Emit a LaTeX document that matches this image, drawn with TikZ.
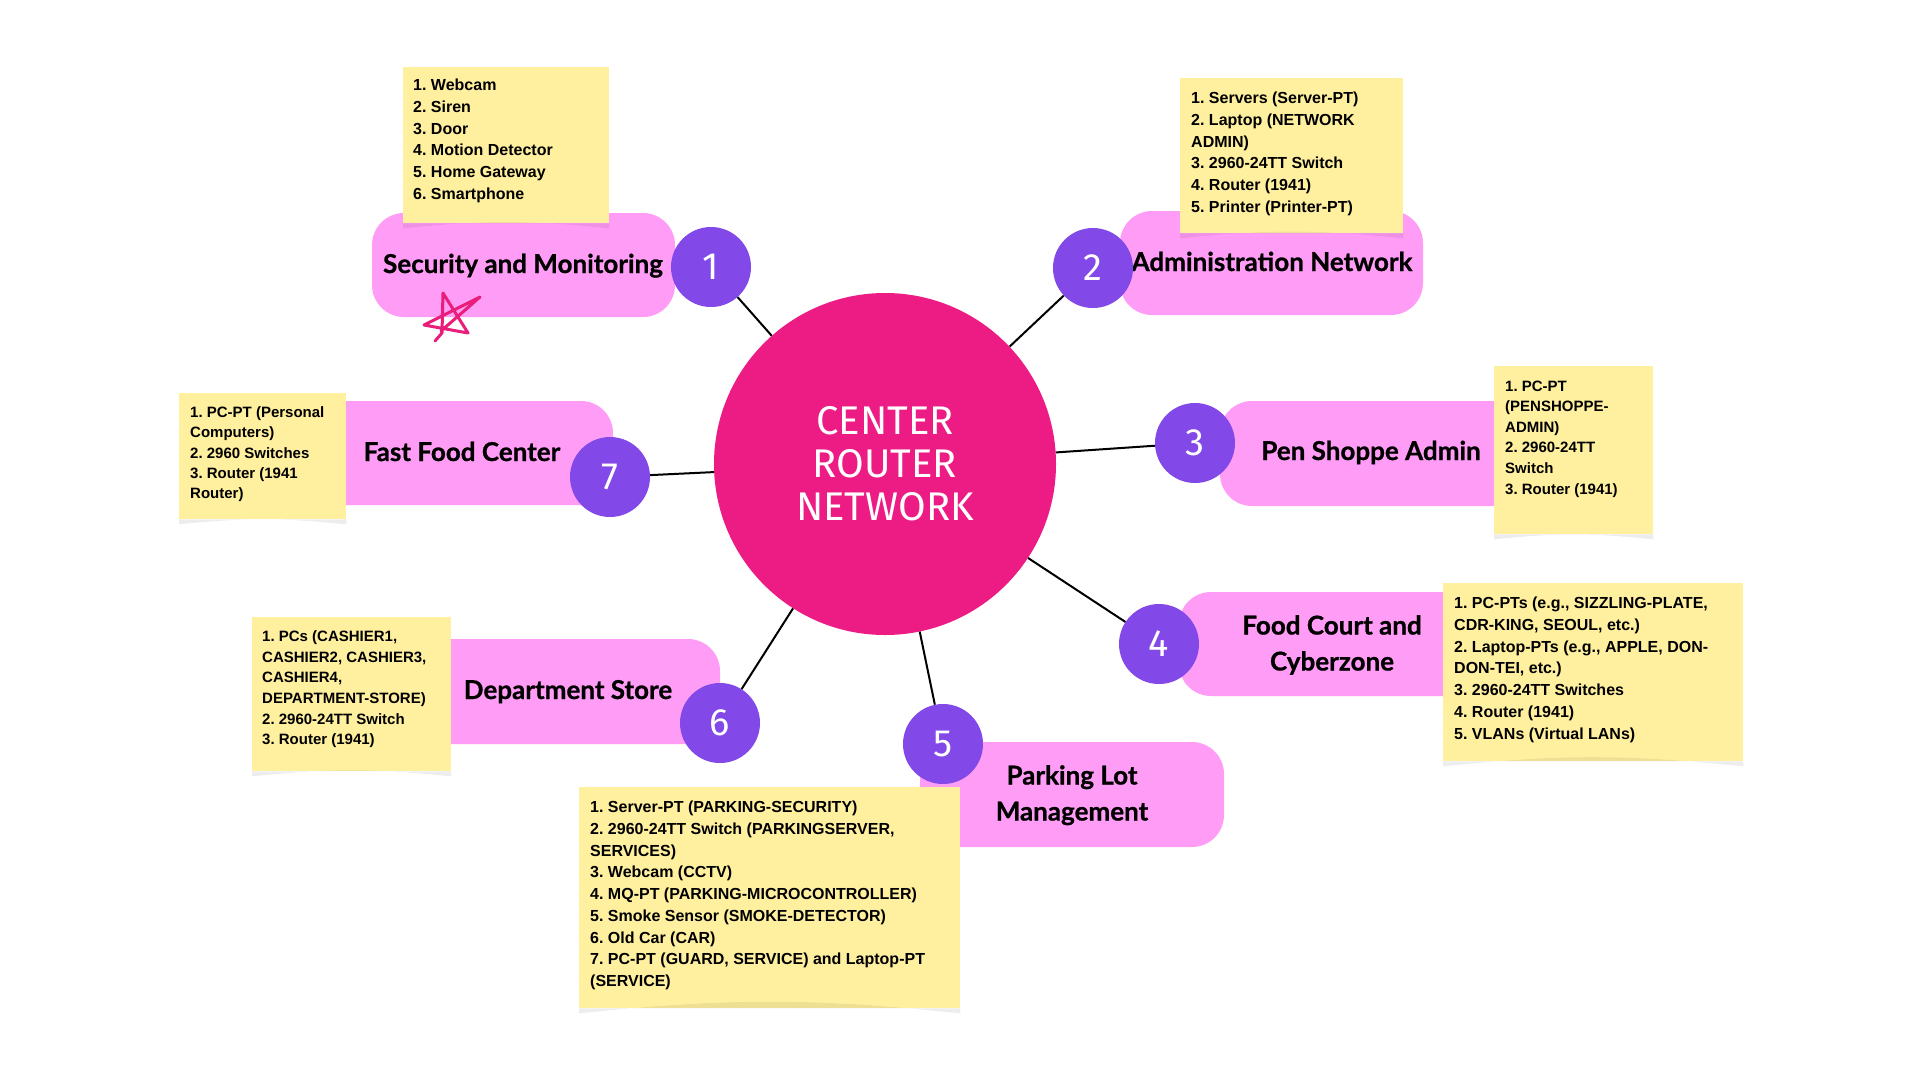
\documentclass[tikz,border=0pt]{standalone}
\usepackage{fontspec}
\newfontfamily\labfont{Lato}[BoldFeatures={FakeBold=0.8}]
\newfontfamily\stickyfont{Liberation Sans}
\newfontfamily\techfont{Fira Sans}
\definecolor{boxpink}{RGB}{255,157,246}
\definecolor{numpurple}{RGB}{130,72,232}
\definecolor{hubpink}{RGB}{236,28,132}
\definecolor{stickyyel}{RGB}{255,240,160}
\definecolor{starpink}{RGB}{233,30,122}
\tikzset{
  box/.style={fill=boxpink, draw=none, rounded corners=32pt, inner sep=0pt},
  lab/.style={font=\labfont\bfseries\fontsize{26}{36}\selectfont, align=center, inner sep=0pt, text=black},
  num/.style={circle, fill=numpurple, minimum size=80pt, inner sep=0pt, text=white, font=\techfont\fontsize{38}{38}\selectfont},
  hub/.style={circle, fill=hubpink, minimum size=342pt, inner sep=0pt, text=white, align=center, font=\techfont\fontsize{40}{43}\selectfont},
  conn/.style={line width=2pt, black},
  sticky/.style={fill=stickyyel, draw=none, inner sep=0pt, anchor=north west},
  stickyshade/.style={fill=black, opacity=0.07},
  stext/.style={font=\stickyfont\bfseries\frenchspacing\fontsize{16}{21.7}\selectfont, align=left, anchor=north west, inner sep=0pt},
  stextsm/.style={font=\stickyfont\bfseries\frenchspacing\fontsize{15}{20.6}\selectfont, align=left, anchor=north west, inner sep=0pt},
}
\begin{document}
\begin{tikzpicture}[x=1pt,y=-1pt]
\useasboundingbox (0,0) rectangle (1920,1080);
\fill[white] (0,0) rectangle (1920,1080);

% pink label boxes
\node[box, minimum width=303pt, minimum height=104pt] (b1) at (523.5,265) {};
\node[box, minimum width=303pt, minimum height=104pt] (b2) at (1271.5,263) {};
\node[box, minimum width=302pt, minimum height=105pt] (b3) at (1371,453.5) {};
\node[box, minimum width=308pt, minimum height=104pt] (b4) at (1333,644) {};
\node[box, minimum width=304pt, minimum height=105pt] (b5) at (1072,794.5) {};
\node[box, minimum width=304pt, minimum height=105pt] (b6) at (568,691.5) {};
\node[box, minimum width=302pt, minimum height=104pt] (b7) at (462,453) {};

% labels
\node[lab, anchor=base] (t1) at (523,273) {Security and Monitoring};
\node[lab, anchor=base] (t2) at (1272,271) {Administration Network};
\node[lab, anchor=base] (t3) at (1371,460) {Pen Shoppe Admin};
\node[lab, anchor=north] (t4) at (1332,615) {Food Court and\\Cyberzone};
\node[lab, anchor=north] (t5) at (1072,765) {Parking Lot\\Management};
\node[lab, anchor=base] (t6) at (568,699) {Department Store};
\node[lab, anchor=base] (t7) at (462,461) {Fast Food Center};

% hub and numbered circles
\node[hub] (hub) at (885,464) {CENTER\\ROUTER\\NETWORK};
\node[num] (n1) at (711,267) {1};
\node[num] (n2) at (1093,268) {2};
\node[num] (n3) at (1195,443) {3};
\node[num] (n4) at (1159,644) {4};
\node[num] (n5) at (943,744) {5};
\node[num] (n6) at (720,723) {6};
\node[num] (n7) at (610,477) {7};

% connectors
\draw[conn] (hub) -- (n1);
\draw[conn] (hub) -- (n2);
\draw[conn] (hub) -- (n3);
\draw[conn] (hub) -- (n4);
\draw[conn] (hub) -- (n5);
\draw[conn] (hub) -- (n6);
\draw[conn] (hub) -- (n7);

% star doodle
\draw[starpink, line width=3pt, line cap=round, line join=round]
  (435,341) .. controls (438,337) .. (442,333) -- (443,293) -- (468,333) -- (424,325) -- (480,297) -- (441,331);

% sticky notes
\node[sticky, minimum width=206pt, minimum height=156pt] (s1) at (403,67) {};
\node[sticky, minimum width=223pt, minimum height=155pt] (s2) at (1180,78) {};
\node[sticky, minimum width=159pt, minimum height=168pt] (s3) at (1494,366) {};
\node[sticky, minimum width=300pt, minimum height=178pt] (s4) at (1443,583) {};
\node[sticky, minimum width=381pt, minimum height=221pt] (s5) at (579,787) {};
\node[sticky, minimum width=199pt, minimum height=154pt] (s6) at (252,617) {};
\node[sticky, minimum width=167pt, minimum height=126pt] (s7) at (179,393) {};

\foreach \s in {s1,s2,s3,s4,s5,s6,s7}{
  \fill[stickyshade] (\s.south west) -- (\s.south east) -- ([yshift=-5pt]\s.south east) to[bend right=6] ([yshift=-5pt]\s.south west) -- cycle;
}

\node[stext] (s1t) at (413,79) {1. Webcam\\2. Siren\\3. Door\\4. Motion Detector\\5. Home Gateway\\6. Smartphone};
\node[stext] (s2t) at (1191,92) {1. Servers (Server-PT)\\2. Laptop (NETWORK\\ADMIN)\\3. 2960-24TT Switch\\4. Router (1941)\\5. Printer (Printer-PT)};
\node[stextsm] (s3t) at (1505,380.5) {1. PC-PT\\(PENSHOPPE-\\ADMIN)\\2. 2960-24TT\\Switch\\3. Router (1941)};
\node[stext] (s4t) at (1454,597) {1. PC-PTs (e.g., SIZZLING-PLATE,\\CDR-KING, SEOUL, etc.)\\2. Laptop-PTs (e.g., APPLE, DON-\\DON-TEI, etc.)\\3. 2960-24TT Switches\\4. Router (1941)\\5. VLANs (Virtual LANs)};
\node[stext] (s5t) at (590,801) {1. Server-PT (PARKING-SECURITY)\\2. 2960-24TT Switch (PARKINGSERVER,\\SERVICES)\\3. Webcam (CCTV)\\4. MQ-PT (PARKING-MICROCONTROLLER)\\5. Smoke Sensor (SMOKE-DETECTOR)\\6. Old Car (CAR)\\7. PC-PT (GUARD, SERVICE) and Laptop-PT\\(SERVICE)};
\node[stextsm] (s6t) at (262,630.6) {1. PCs (CASHIER1,\\CASHIER2, CASHIER3,\\CASHIER4,\\DEPARTMENT-STORE)\\2. 2960-24TT Switch\\3. Router (1941)};
\node[stextsm, font=\stickyfont\bfseries\frenchspacing\fontsize{15}{20.3}\selectfont] (s7t) at (190,406.6) {1. PC-PT (Personal\\Computers)\\2. 2960 Switches\\3. Router (1941\\Router)};
\end{tikzpicture}
\end{document}
